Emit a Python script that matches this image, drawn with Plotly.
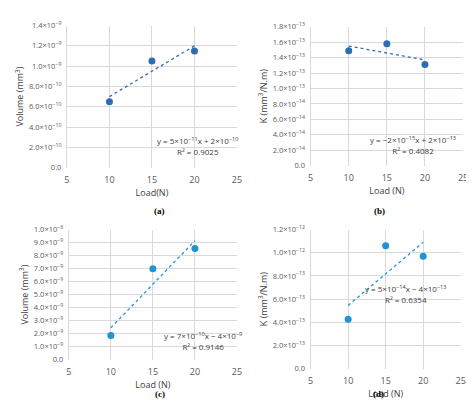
import numpy as np
import plotly.graph_objects as go

load = [10, 15, 20]
vol_a = [6.5e-10, 1.05e-9, 1.15e-9]
k_b = [1.49e-13, 1.58e-13, 1.31e-13]
vol_c = [1.85e-9, 7.0e-9, 8.55e-9]
k_d = [4.25e-13, 1.06e-12, 9.7e-13]

panels = [
    dict(y=vol_a, ymax=1.4e-9, step=2e-10, ytitle="Volume (mm<sup>3</sup>)", xtitle="Load(N)",
         eq="y = 5×10<sup>−11</sup>x + 2×10<sup>−10</sup>", r2="R² = 0.9025", color="#2e6db4",
         xd=[0.120, 0.485], yd=[0.623, 0.974], tag="(a)", tagy=0.516, eqpos=(20.4, 2.1e-10)),
    dict(y=k_b, ymax=1.8e-13, step=2e-14, ytitle="K (mm<sup>3</sup>/N.m)", xtitle="Load (N)",
         eq="y = −2×10<sup>−15</sup>x + 2×10<sup>−13</sup>", r2="R² = 0.4082", color="#2e6db4",
         xd=[0.643, 0.97], yd=[0.628, 0.971], tag="(b)", tagy=0.516, eqpos=(18.5, 2.7e-14)),
    dict(y=vol_c, ymax=1.0e-8, step=1e-9, ytitle="Volume (mm<sup>3</sup>)", xtitle="Load (N)",
         eq="y = 7×10<sup>−10</sup>x − 4×10<sup>−9</sup>", r2="R² = 0.9146", color="#1f93d3",
         xd=[0.124, 0.485], yd=[0.149, 0.470], tag="(c)", tagy=0.046, eqpos=(21.0, 1.4e-9)),
    dict(y=k_d, ymax=1.2e-12, step=2e-13, ytitle="K (mm<sup>3</sup>/N.m)", xtitle="Load (N)",
         eq="y = 5×10<sup>−14</sup>x − 4×10<sup>−13</sup>", r2="R² = 0.6354", color="#1f93d3",
         xd=[0.643, 0.965], yd=[0.127, 0.470], tag="(d)", tagy=0.046, eqpos=(17.6, 6.4e-13)),
]

def sci(v):
    if v == 0:
        return "0.0"
    e = int(np.floor(np.log10(v) + 1e-9))
    m = v / 10 ** e
    return f"{m:.1f}×10<sup>−{-e}</sup>" if e < 0 else f"{m:.1f}×10<sup>{e}</sup>"

fig = go.Figure()
font = "Open Sans, Liberation Sans, sans-serif"
for i, p in enumerate(panels, start=1):
    xa = "x" if i == 1 else f"x{i}"
    ya = "y" if i == 1 else f"y{i}"
    # linear trendline from the points
    slope, icpt = np.polyfit(load, p["y"], 1)
    fig.add_trace(go.Scatter(x=[10, 20], y=[slope * 10 + icpt, slope * 20 + icpt], mode="lines",
                             line=dict(color=p["color"], width=1.3, dash="dot"), xaxis=xa, yaxis=ya,
                             showlegend=False))
    fig.add_trace(go.Scatter(x=load, y=p["y"], mode="markers", marker=dict(color=p["color"], size=7),
                             xaxis=xa, yaxis=ya, showlegend=False))
    tv = np.arange(0, p["ymax"] + p["step"] / 2, p["step"])
    axx = dict(domain=p["xd"], range=[5, 25], tickvals=[5, 10, 15, 20, 25], showgrid=True,
               gridcolor="#d9d9d9", zeroline=False, showline=False, ticks="", ticklabelstandoff=5,
               tickfont=dict(size=9, color="#595959"),
               title=dict(text=p["xtitle"], font=dict(size=9, color="#404040"), standoff=4),
               anchor=ya)
    axy = dict(domain=p["yd"], range=[0, p["ymax"]], tickvals=list(tv), ticktext=[sci(v) for v in tv],
               showgrid=True, gridcolor="#d9d9d9", zeroline=False, ticks="",
               showline=True, linecolor="#d9d9d9", ticklabelstandoff=3,
               tickfont=dict(size=7.5, color="#595959"),
               title=dict(text=p["ytitle"], font=dict(size=9, color="#404040"), standoff=3),
               anchor=xa)
    fig.update_layout({("xaxis" if i == 1 else f"xaxis{i}"): axx, ("yaxis" if i == 1 else f"yaxis{i}"): axy})
    fig.add_annotation(x=p["eqpos"][0], y=p["eqpos"][1], xref=xa, yref=ya,
                       text=p["eq"] + "<br>" + p["r2"], showarrow=False, align="center",
                       font=dict(size=8, color="#404040"))
    fig.add_annotation(x=sum(p["xd"]) / 2, y=p["tagy"], xref="paper", yref="paper",
                       text="<b>" + p["tag"] + "</b>", showarrow=False,
                       font=dict(size=9, color="black", family="Liberation Serif, serif"))

fig.update_layout(width=474, height=417, margin=dict(l=0, r=0, t=0, b=0),
                  paper_bgcolor="white", plot_bgcolor="white", font=dict(family=font))
fig.write_html("out.html")
